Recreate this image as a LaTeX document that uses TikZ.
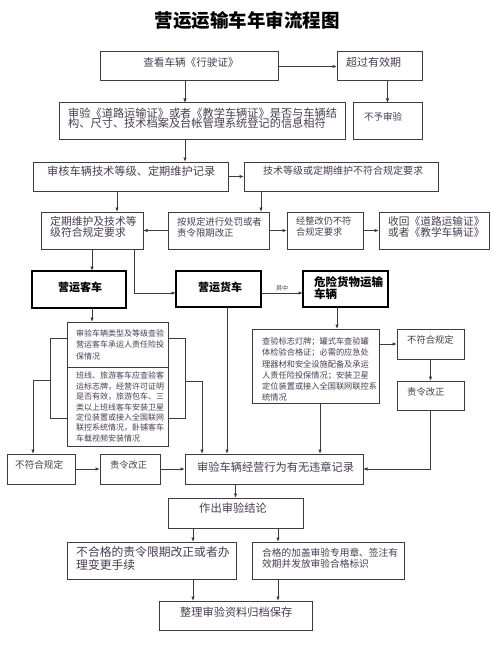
\documentclass[tikz,border=0pt]{standalone}
\usepackage{fontspec}
\setmainfont{Noto Sans CJK SC}
\usetikzlibrary{arrows.meta,calc}
\definecolor{lncol}{RGB}{60,60,60}
\definecolor{txcol}{RGB}{70,60,80}
\tikzset{
  box/.style={draw=lncol, line width=1pt, anchor=north west, inner sep=0pt, outer sep=0pt},
  thickbox/.style={draw=black, line width=2.2pt, anchor=north west, inner sep=0pt, outer sep=0pt},
  midbox/.style={draw=black, line width=1.6pt, anchor=north west, inner sep=0pt, outer sep=0pt},
  txt/.style={text=txcol, inner sep=0pt, anchor=west, align=left},
  ln/.style={draw=lncol, line width=1pt},
  arr/.style={draw=lncol, line width=1pt, -{Latex[length=4.5pt,width=3.5pt]}},
}
\begin{document}
\begin{tikzpicture}[x=1pt,y=-1pt]
\useasboundingbox (0,0) rectangle (496,650);
\node[inner sep=0pt, font=\fontsize{18.5}{19}\selectfont\bfseries] (title) at (247,20) {营运运输车年审流程图};

% boxes
\node[box, minimum width=178pt, minimum height=29pt] (A) at (100,52) {};
\node[box, minimum width=85pt, minimum height=29pt] (B) at (337,52) {};
\node[box, minimum width=286pt, minimum height=36pt] (C) at (59,103) {};
\node[box, minimum width=69pt, minimum height=36pt] (D) at (353,103) {};
\node[box, minimum width=195pt, minimum height=29pt] (E) at (33,162) {};
\node[box, minimum width=194pt, minimum height=29pt] (F) at (244,162) {};
\node[box, minimum width=102pt, minimum height=37pt] (G) at (41,212) {};
\node[box, minimum width=101pt, minimum height=37pt] (H) at (168,212) {};
\node[box, minimum width=76pt, minimum height=37pt] (I) at (287,212) {};
\node[box, minimum width=110pt, minimum height=37pt] (J) at (379,212) {};
\node[thickbox, minimum width=94pt, minimum height=37pt] (K) at (32,271) {};
\node[midbox, minimum width=85pt, minimum height=36pt] (L) at (176,271) {};
\node[thickbox, minimum width=85pt, minimum height=36pt] (M) at (303,271) {};
\node[box, minimum width=101pt, minimum height=45pt] (N1) at (67,322) {};
\node[box, minimum width=101pt, minimum height=79pt] (N2) at (67,367) {};
\node[box, minimum width=127pt, minimum height=74pt] (W) at (252,329) {};
\node[box, minimum width=67pt, minimum height=30pt] (X) at (397,329) {};
\node[box, minimum width=67pt, minimum height=29pt] (Y) at (397,381) {};
\node[box, minimum width=68pt, minimum height=30pt] (O) at (7,454) {};
\node[box, minimum width=60pt, minimum height=30pt] (P) at (100,454) {};
\node[box, minimum width=178pt, minimum height=30pt] (Q) at (185,454) {};
\node[box, minimum width=135pt, minimum height=30pt] (R) at (168,498) {};
\node[box, minimum width=169pt, minimum height=37pt] (T) at (67,542) {};
\node[box, minimum width=152pt, minimum height=37pt] (U) at (252,542) {};
\node[box, minimum width=153pt, minimum height=29pt] (V) at (159,601) {};

% texts
\node[txt, anchor=center, font=\fontsize{10.6}{11}\selectfont] (At) at (191,62) {查看车辆《行驶证》};
\node[txt, font=\fontsize{11}{11}\selectfont] (Bt) at (346,62) {超过有效期};
\node[txt, font=\fontsize{11.2}{10.5}\selectfont] (Ct) at (68,118) {审验《道路运输证》或者《教学车辆证》是否与车辆结\\构、尺寸、技术档案及台帐管理系统登记的信息相符};
\node[txt, font=\fontsize{9.5}{10}\selectfont] (Dt) at (364,117) {不予审验};
\node[txt, font=\fontsize{11.2}{11}\selectfont] (Et) at (47,171) {审核车辆技术等级、定期维护记录};
\node[txt, font=\fontsize{10}{11}\selectfont] (Ft) at (263,171) {技术等级或定期维护不符合规定要求};
\node[txt, font=\fontsize{10.8}{11}\selectfont] (Gt) at (50,227) {定期维护及技术等\\级符合规定要求};
\node[txt, font=\fontsize{9.4}{11}\selectfont] (Ht) at (177,227) {按规定进行处罚或者\\责令限期改正};
\node[txt, font=\fontsize{9.2}{11}\selectfont] (It) at (296,227) {经整改仍不符\\合规定要求};
\node[txt, font=\fontsize{10.7}{11}\selectfont] (Jt) at (388,227) {收回《道路运输证》\\或者《教学车辆证》};
\node[txt, anchor=center, text=black, font=\fontsize{11}{11}\selectfont\bfseries] (Kt) at (80,287) {营运客车};
\node[txt, anchor=center, text=black, font=\fontsize{11}{11}\selectfont\bfseries] (Lt) at (220,287) {营运货车};
\node[txt, text=black, font=\fontsize{11.5}{11.5}\selectfont\bfseries] (Mt) at (314,288) {危险货物运输\\车辆};
\node[txt, font=\fontsize{8}{11.5}\selectfont] (N1t) at (76,344.5) {审验车辆类型及等级查验\\营运客车承运人责任险投\\保情况};
\node[txt, font=\fontsize{8}{10.4}\selectfont] (N2t) at (76,407) {班线、旅游客车应查验客\\运标志牌，经营许可证明\\是否有效，旅游包车、三\\类以上班线客车安装卫星\\定位装置或接入全国联网\\联控系统情况，卧铺客车\\车载视频安装情况};
\node[txt, font=\fontsize{8.2}{11.1}\selectfont] (Wt) at (262,369.5) {查验标志灯牌；罐式车查验罐\\体检验合格证；必需的应急处\\理器材和安全设施配备及承运\\人责任险投保情况；安装卫星\\定位装置或接入全国联网联控系\\统情况};
\node[txt, font=\fontsize{9.3}{10}\selectfont] (Xt) at (407,340) {不符合规定};
\node[txt, font=\fontsize{9.3}{10}\selectfont] (Yt) at (407,392) {责令改正};
\node[txt, font=\fontsize{9.6}{10}\selectfont] (Ot) at (15,465) {不符合规定};
\node[txt, font=\fontsize{9.2}{10}\selectfont] (Pt) at (110,465) {责令改正};
\node[txt, font=\fontsize{11.2}{11}\selectfont] (Qt) at (197,467) {审验车辆经营行为有无违章记录};
\node[txt, font=\fontsize{11.3}{11}\selectfont] (Rt) at (199,508) {作出审验结论};
\node[txt, font=\fontsize{11.8}{11}\selectfont] (Tt) at (76,558.5) {不合格的责令限期改正或者办\\理变更手续};
\node[txt, font=\fontsize{9.7}{11}\selectfont] (Ut) at (262,558.5) {合格的加盖审验专用章、签注有\\效期并发放审验合格标识};
\node[txt, font=\fontsize{11.2}{11}\selectfont] (Vt) at (180,612) {整理审验资料归档保存};

% connectors
\draw[arr] (A.east) -- (B.west);
\draw[arr] ([xshift=-4pt]A.south) -- ([xshift=-4pt]A.south |- C.north);
\draw[arr] (B.south -| D.north) -- (D.north);
\draw[arr] ([xshift=-17pt]C.south) -- ([xshift=-17pt]C.south |- E.north);
\draw[arr] (E.east) -- (F.west);
\draw[arr] ([xshift=-13.5pt]E.south) -- ([xshift=-13.5pt]E.south |- G.north);
\draw[arr] ([xshift=-80pt]F.south) -- ([xshift=-80pt]F.south |- H.north);
\draw[arr] (H.west) -- (G.east);
\draw[arr] (H.east) -- (I.west);
\draw[arr] (I.east) -- (J.west);
\draw[arr] (G.south) -- (G.south |- K.north);
\draw[arr] ([xshift=-9pt]G.south east) |- ([yshift=-4pt]L.west);
\draw[arr] ([yshift=-4pt]L.east) -- ([yshift=-4pt]L.east -| M.west)
  node[midway, above=1.5pt, inner sep=0pt, text=txcol, font=\fontsize{6}{6}\selectfont] (lbl) {其中};
\draw[arr] ([xshift=13pt]K.south) -- ([xshift=13pt]K.south |- N1.north);
\draw[arr] ([xshift=-8.5pt]M.south) -- ([xshift=-8.5pt]M.south |- W.north);
\draw[arr] ([yshift=-15pt]W.north east) -- ([yshift=-15pt]W.north east -| X.west);
\draw[arr] (X.south) -- (Y.north);
\draw[arr] (Y.south) |- (Q.east);
\draw[arr] ([xshift=4.5pt]W.south) -- ([xshift=4.5pt]W.south |- Q.north);
\draw[arr] ([xshift=8.5pt]L.south) -- ([xshift=8.5pt]L.south |- Q.north);

\coordinate (LT) at (50,338);
\coordinate (LB) at (50,418);
\coordinate (LM) at (50,380);
\coordinate (RT) at (185,338);
\coordinate (RB) at (185,418);
\coordinate (RM) at (185,381);
\draw[ln] (LT -| N1.west) -- (LT) -- (LB) -- (LB -| N2.west);
\draw[ln] (RT -| N1.east) -- (RT) -- (RB) -- (RB -| N2.east);
\draw[arr] (LM) -| ([xshift=-8pt]O.north);
\draw[arr] (RM) -| ([xshift=17pt]Q.north west);

\draw[arr] (O.east) -- (P.west);
\draw[arr] (P.east) -- (Q.west);
\draw[arr] (Q.south -| R.north) -- (R.north);
\draw[arr] ([xshift=-42.5pt]R.south) -- ([xshift=-42.5pt]R.south |- T.north);
\draw[arr] ([xshift=42.5pt]R.south) -- ([xshift=42.5pt]R.south |- U.north);
\draw[arr] ([xshift=41.5pt]T.south) -- ([xshift=41.5pt]T.south |- V.north);
\draw[arr] ([xshift=-50pt]U.south) -- ([xshift=-50pt]U.south |- V.north);
\end{tikzpicture}
\end{document}
